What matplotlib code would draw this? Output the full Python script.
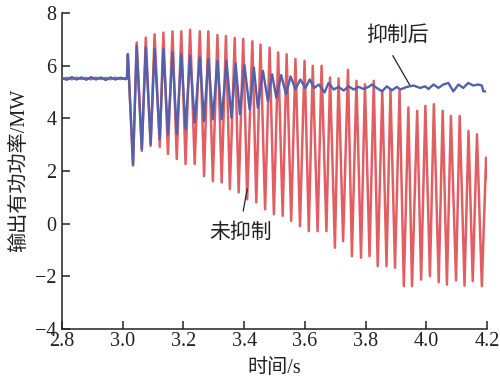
import matplotlib
matplotlib.use("Agg")
import matplotlib.pyplot as plt

# ---- data (extrema of each trace, time in s, power in MW)
pre_t = [2.800, 2.816, 2.832, 2.848, 2.864, 2.880, 2.896, 2.912, 2.928, 2.944,
         2.960, 2.976, 2.992, 3.008, 3.014]
pre_blue = [5.52, 5.46, 5.56, 5.47, 5.55, 5.46, 5.56, 5.47, 5.55, 5.45,
            5.55, 5.47, 5.54, 5.48, 5.52]
pre_red = [5.50, 5.53, 5.48, 5.54, 5.49, 5.53, 5.48, 5.54, 5.49, 5.53,
           5.48, 5.54, 5.49, 5.52, 5.50]

red_t = [3.017, 3.034, 3.046, 3.063, 3.076, 3.092, 3.105, 3.122, 3.134, 3.149,
         3.164, 3.178, 3.193, 3.207, 3.222, 3.237, 3.254, 3.268, 3.282, 3.297,
         3.312, 3.326, 3.340, 3.353, 3.369, 3.382, 3.397, 3.410, 3.427, 3.440,
         3.454, 3.469, 3.484, 3.498, 3.512, 3.527, 3.540, 3.555, 3.569, 3.584,
         3.599, 3.613, 3.626, 3.642, 3.655, 3.671, 3.683, 3.699, 3.711, 3.726,
         3.742, 3.755, 3.770, 3.785, 3.798, 3.813, 3.827, 3.840, 3.855, 3.869,
         3.882, 3.897, 3.912, 3.926, 3.941, 3.953, 3.970, 3.983, 3.997, 4.012,
         4.025, 4.041, 4.054, 4.068, 4.081, 4.098, 4.110, 4.126, 4.139, 4.153,
         4.167, 4.183, 4.197, 4.199]
red_p = [6.40, 2.20, 6.88, 2.76, 7.06, 2.95, 7.19, 2.91, 7.25, 2.64,
         7.30, 2.45, 7.30, 2.26, 7.36, 2.26, 7.30, 1.80, 7.30, 1.61,
         7.16, 1.56, 7.12, 1.31, 7.05, 1.18, 7.01, 0.92, 6.92, 0.80,
         6.80, 0.54, 6.68, 0.35, 6.50, 0.29, 6.43, 0.10, 6.25, -0.10,
         6.18, -0.29, 5.99, -0.29, 5.99, -0.29, 5.55, -0.92, 5.51, -0.67,
         5.84, -1.24, 5.42, -1.30, 5.29, -1.24, 5.42, -1.62, 5.05, -1.62,
         5.10, -1.68, 5.05, -2.38, 4.41, -2.38, 4.28, -2.13, 4.47, -2.00,
         4.53, -2.23, 4.28, -2.32, 4.09, -2.16, 4.09, -2.36, 3.52, -2.19,
         3.39, -2.38, 2.50, 1.70]

blue_t = [3.017, 3.034, 3.046, 3.063, 3.076, 3.092, 3.105, 3.122, 3.134, 3.149,
          3.164, 3.178, 3.193, 3.207, 3.222, 3.237, 3.254, 3.268, 3.282, 3.297,
          3.312, 3.326, 3.342, 3.358, 3.372, 3.386, 3.401, 3.418, 3.432, 3.445,
          3.462, 3.478, 3.492, 3.506, 3.522, 3.538, 3.553, 3.569, 3.585, 3.602,
          3.616, 3.631, 3.646, 3.665, 3.678, 3.695, 3.711, 3.728, 3.744, 3.761,
          3.777, 3.793, 3.810, 3.821, 3.837, 3.854, 3.870, 3.887, 3.903, 3.914,
          3.936, 3.958, 3.980, 3.996, 4.007, 4.024, 4.040, 4.056, 4.073, 4.089,
          4.106, 4.122, 4.138, 4.155, 4.171, 4.183, 4.188, 4.193]
blue_p = [6.44, 2.25, 6.75, 2.82, 6.69, 3.01, 6.63, 3.20, 6.63, 3.39,
          6.50, 3.39, 6.44, 3.58, 6.37, 3.84, 6.31, 3.89, 6.25, 3.96,
          6.18, 3.96, 6.18, 4.02, 6.08, 4.15, 6.02, 4.34, 5.93, 4.40,
          5.80, 4.66, 5.67, 4.78, 5.64, 4.91, 5.59, 5.10, 5.47, 5.15,
          5.47, 5.15, 5.28, 4.98, 5.34, 5.09, 5.19, 5.05, 5.21, 5.09,
          5.19, 5.11, 5.19, 5.28, 5.15, 5.02, 5.21, 5.06, 5.19, 5.09,
          5.19, 5.24, 5.15, 5.21, 5.11, 5.28, 5.15, 5.28, 5.34, 5.02,
          5.28, 5.15, 5.34, 5.24, 5.28, 5.24, 5.02, 5.02]

x_ticks = [2.8, 3.0, 3.2, 3.4, 3.6, 3.8, 4.0, 4.2]
y_ticks = [-4, -2, 0, 2, 4, 6, 8]

RED = "#de4c52"
BLUE = "#5360aa"
CJK = ["Liberation Serif", "Noto Sans CJK SC"]

fig = plt.figure(figsize=(5.0, 3.91), dpi=100)
ax = fig.add_axes([0.124, 0.159, 0.850, 0.808])

ax.plot(pre_t + red_t, pre_red + red_p, color=RED, lw=1.8, alpha=0.9,
        solid_joinstyle="round", zorder=2)
ax.plot(pre_t + blue_t, pre_blue + blue_p, color=BLUE, lw=1.7,
        solid_joinstyle="round", zorder=3)

ax.set_xlim(2.8, 4.2)
ax.set_ylim(-4, 8)
ax.set_xticks(x_ticks)
ax.set_xticklabels([f"{v:.1f}" for v in x_ticks])
ax.set_yticks(y_ticks)
ax.set_yticklabels([f"{v}".replace("-", "\u2212") for v in y_ticks])

for side in ("top", "right"):
    ax.spines[side].set_visible(False)
for side in ("left", "bottom"):
    ax.spines[side].set_linewidth(1.1)
    ax.spines[side].set_color("#222222")
ax.tick_params(direction="in", length=6, width=1.1, color="#222222",
               labelsize=14.5)
ax.tick_params(axis="x", pad=2)
ax.tick_params(axis="y", pad=4)
for lab in ax.get_xticklabels() + ax.get_yticklabels():
    lab.set_family("Liberation Serif")
    lab.set_color("#222222")

ax.set_xlabel("时间/s", family=CJK, fontsize=14.5, labelpad=6, color="#222222")
ax.set_ylabel("输出有功功率/MW", family=CJK, fontsize=14.5, labelpad=4,
              color="#222222")

# labels with leader lines
ax.text(3.904, 7.10, "抑制后", family=CJK, fontsize=15, ha="center",
        va="center", color="#222222")
ax.plot([3.890, 3.945], [6.37, 5.27], color="#222222", lw=0.9, zorder=4)
ax.text(3.388, -0.35, "未抑制", family=CJK, fontsize=15, ha="center",
        va="center", color="#222222")
ax.plot([3.397, 3.410], [0.48, 1.31], color="#222222", lw=0.9, zorder=4)

fig.savefig("out.png", dpi=100)
